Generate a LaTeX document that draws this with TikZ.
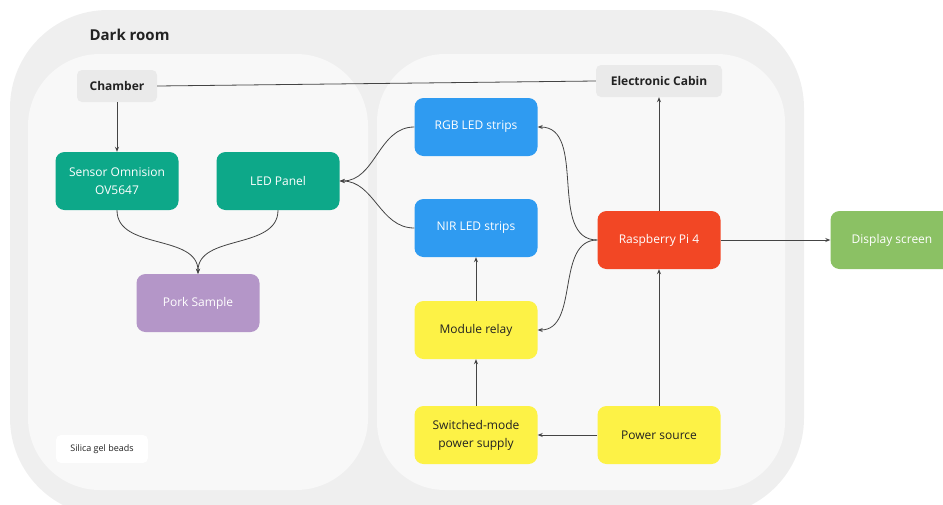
\documentclass[tikz,border=0pt]{standalone}
\usepackage{fontspec}
\setmainfont{Open Sans}
\usetikzlibrary{arrows.meta}
\definecolor{roomgray}{HTML}{EFEFEF}
\definecolor{panelgray}{HTML}{F8F8F8}
\definecolor{labelgray}{HTML}{EAEAEA}
\definecolor{linegray}{HTML}{444444}
\definecolor{sensorgreen}{HTML}{0DA889}
\definecolor{stripblue}{HTML}{2F9BF1}
\definecolor{piorange}{HTML}{F24725}
\definecolor{powyellow}{HTML}{FDF246}
\definecolor{porkpurple}{HTML}{B496C8}
\definecolor{screengreen}{HTML}{8BC164}
\definecolor{textdark}{HTML}{222222}

\begin{document}
\begin{tikzpicture}[x=1pt, y=-1pt,
    block/.style = {rounded corners=9pt, minimum width=123pt, minimum height=58pt,
        align=center, font=\fontsize{12}{18}\selectfont, text=white},
    darkblock/.style = {block, text=textdark},
    tag/.style = {rounded corners=5pt, fill=labelgray, text=textdark,
        font=\fontsize{12}{14}\selectfont\bfseries},
    link/.style = {draw=linegray, line width=0.8pt, -{Stealth[length=5pt,width=4pt]}}]
    \useasboundingbox (0,0) rectangle (943,504);

    \fill[roomgray, rounded corners=98pt] (10,10) rectangle (804,516);
    \fill[panelgray, rounded corners=72pt] (28,54) rectangle (368,490);
    \fill[panelgray, rounded corners=68pt] (377,54) rectangle (785,490);

    \node[anchor=west, text=textdark, font=\fontsize{15}{18}\selectfont\bfseries] (room) at (86,35) {Dark room};

    \node[tag, minimum width=80pt, minimum height=32pt] (chamber) at (117,86) {Chamber};
    \node[tag, minimum width=126pt, minimum height=32pt] (cabin) at (659,81) {Electronic Cabin};

    \node[block, fill=sensorgreen] (sensor) at (117,181) {Sensor Omnision\\OV5647};
    \node[block, fill=sensorgreen] (panel) at (278,181) {LED Panel};
    \node[block, fill=porkpurple] (pork) at (198,303) {Pork Sample};
    \node[rounded corners=5pt, fill=white, minimum width=92pt, minimum height=28pt,
        font=\fontsize{9}{11}\selectfont, text=textdark] (silica) at (102,449) {Silica gel beads};

    \node[block, fill=stripblue] (rgb) at (476,127) {RGB LED strips};
    \node[block, fill=stripblue] (nir) at (476,228) {NIR LED strips};
    \node[block, fill=piorange] (pi) at (659,240) {Raspberry Pi 4};
    \node[darkblock, fill=powyellow] (relay) at (476,330) {Module relay};
    \node[darkblock, fill=powyellow] (smps) at (476,435) {Switched-mode\\power supply};
    \node[darkblock, fill=powyellow] (source) at (659,435) {Power source};
    \node[block, fill=screengreen] (screen) at (892,240) {Display screen};

    \draw[draw=linegray, line width=0.8pt] (chamber.east) -- (cabin.west);
    \draw[link] (chamber) -- (sensor);
    \draw[link] (sensor.south) to[out=-90, in=90] (pork.north);
    \draw[link] (panel.south) to[out=-90, in=90] (pork.north);
    \draw[link] (rgb.west) to[out=180, in=0] (panel.east);
    \draw[link] (nir.west) to[out=180, in=0] (panel.east);
    \draw[link] (pi.west) to[out=180, in=0] (rgb.east);
    \draw[link] (pi.west) to[out=180, in=0] (relay.east);
    \draw[link] (pi) -- (cabin);
    \draw[link] (pi) -- (screen);
    \draw[link] (source) -- (pi);
    \draw[link] (source) -- (smps);
    \draw[link] (smps) -- (relay);
    \draw[link] (relay) -- (nir);
\end{tikzpicture}
\end{document}
